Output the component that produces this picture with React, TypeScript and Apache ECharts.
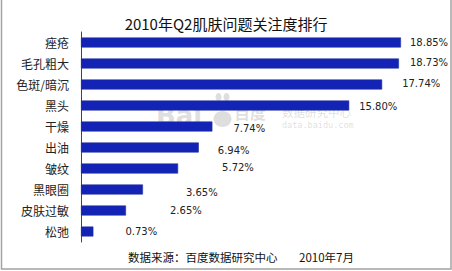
import React, { useEffect, useRef } from "react";
import * as echarts from "echarts";

const categories = ["痤疮", "毛孔粗大", "色斑/暗沉", "黑头", "干燥", "出油", "皱纹", "黑眼圈", "皮肤过敏", "松弛"];
const values = [18.85, 18.73, 17.74, 15.8, 7.74, 6.94, 5.72, 3.65, 2.65, 0.73];
const titleText = "2010年Q2肌肤问题关注度排行";
const sourceText = "数据来源：百度数据研究中心";
const dateText = "2010年7月";

// label placement quirks of the original picture (style only)
const labelGap = [9, 11, 20, 10, 21, 19, 44, 43, 44, 32];
const labelDy = [0, -1, -1, 1, 2, 3, -1, 3, 0, 0];

const CJK = '"Noto Sans CJK SC", "Noto Sans", sans-serif';
const WM = "#9a9a9a";

export default function App() {
  const ref = useRef<HTMLDivElement>(null);
  useEffect(() => {
    if (!ref.current) return;
    const chart = echarts.init(ref.current, null, { renderer: "svg" });
    chart.setOption({
      animation: false,
      backgroundColor: "#ffffff",
      title: {
        text: titleText,
        left: "center",
        top: 11,
        textStyle: { fontFamily: CJK, fontSize: 15, fontWeight: "normal", color: "#111" },
      },
      grid: { left: 81, right: 31.5, top: 32, bottom: 29 },
      xAxis: { type: "value", min: 0, max: 20, show: false },
      yAxis: {
        type: "category",
        data: categories,
        inverse: true,
        axisLine: { show: true, lineStyle: { color: "#444", width: 1 } },
        axisTick: { show: false },
        axisLabel: { margin: 12, fontFamily: CJK, fontSize: 12, color: "#222" },
      },
      series: [
        {
          type: "bar",
          barWidth: 10,
          itemStyle: { color: "#1323b6", borderColor: "#27329a", borderWidth: 0.6 },
          data: values.map((v, i) => ({
            value: v,
            label: {
              show: true,
              position: "right",
              distance: labelGap[i],
              offset: [0, labelDy[i]],
              formatter: (p: any) => p.value.toFixed(2) + "%",
              fontFamily: '"DejaVu Sans", Verdana, sans-serif',
              fontSize: 10,
              color: "#222",
            },
          })),
        },
      ],
      graphic: [
        {
          type: "rect",
          shape: { x: 1.5, y: -2, width: 449.5, height: 271 },
          style: { fill: "none", stroke: "#a3a3a3", lineWidth: 1.5 },
          silent: true,
        },
        {
          type: "text",
          left: 128,
          top: 251,
          style: { text: sourceText, fontFamily: CJK, fontSize: 11.5, fill: "#111" },
        },
        {
          type: "text",
          left: 299,
          top: 251,
          style: { text: dateText, fontFamily: CJK, fontSize: 11.5, fill: "#111" },
        },
        {
          type: "group",
          z: 100,
          silent: true,
          children: [
            {
              type: "text",
              x: 156,
              y: 103,
              style: { text: "Bai", fontFamily: '"DejaVu Sans", sans-serif', fontWeight: "bold", fontSize: 26, fill: WM, opacity: 0.33 },
            },
            { type: "ellipse", shape: { cx: 213, cy: 106, rx: 3, ry: 4 }, style: { fill: WM, opacity: 0.33 } },
            { type: "ellipse", shape: { cx: 218.5, cy: 97, rx: 3, ry: 4 }, style: { fill: WM, opacity: 0.33 } },
            { type: "ellipse", shape: { cx: 226.5, cy: 97, rx: 3, ry: 4 }, style: { fill: WM, opacity: 0.33 } },
            { type: "ellipse", shape: { cx: 232, cy: 106, rx: 3, ry: 4 }, style: { fill: WM, opacity: 0.33 } },
            { type: "ellipse", shape: { cx: 222.5, cy: 119, rx: 9, ry: 8 }, style: { fill: WM, opacity: 0.33 } },
            {
              type: "text",
              x: 234,
              y: 104,
              style: { text: "百度", fontFamily: CJK, fontWeight: "bold", fontSize: 16, fill: WM, opacity: 0.33 },
            },
            {
              type: "text",
              x: 282,
              y: 106,
              style: { text: "数据研究中心", fontFamily: CJK, fontSize: 11.5, fill: WM, opacity: 0.33 },
            },
            {
              type: "text",
              x: 282,
              y: 120,
              style: { text: "data.baidu.com", fontFamily: '"DejaVu Sans Mono", monospace', fontSize: 8.5, fill: WM, opacity: 0.33 },
            },
          ],
        },
      ],
    });
    return () => chart.dispose();
  }, []);
  return <div ref={ref} style={{ position: "fixed", left: 0, top: 0, width: 452, height: 271 }} />;
}
